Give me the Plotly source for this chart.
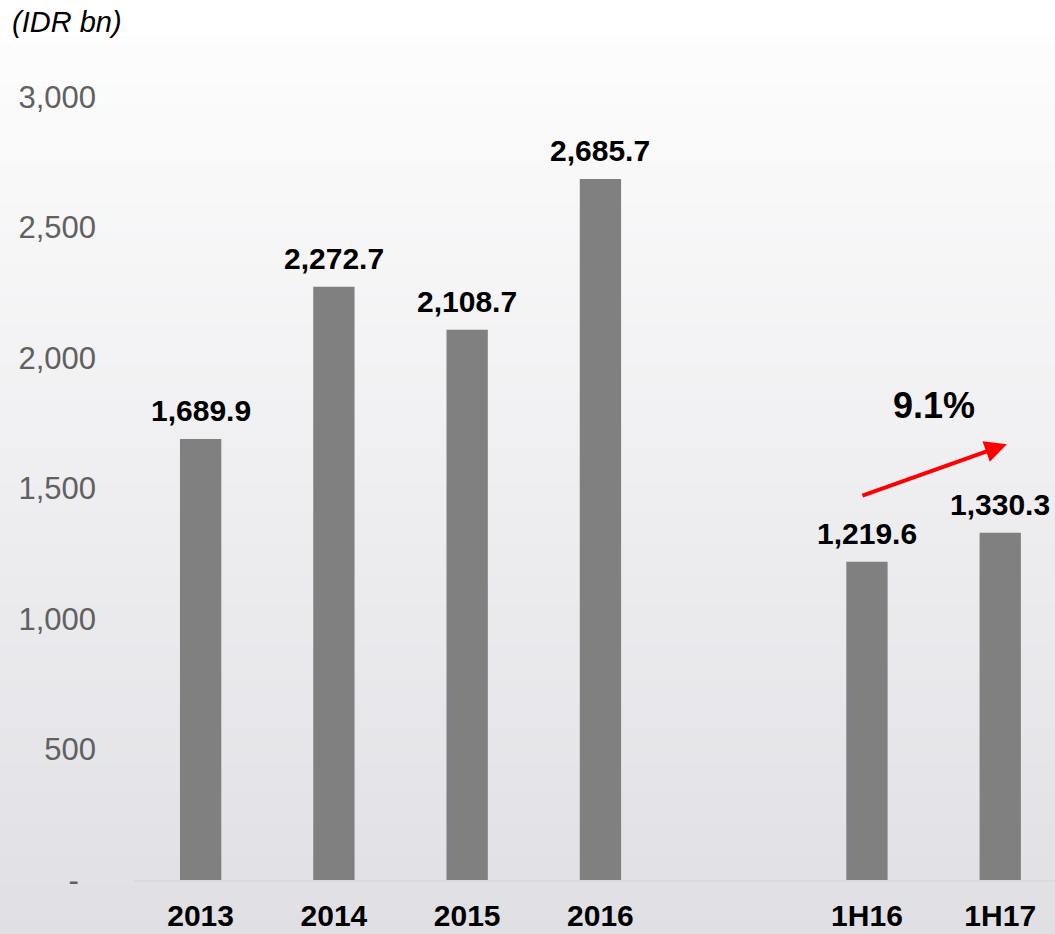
import plotly.graph_objects as go

categories = ["2013", "2014", "2015", "2016", " ", "1H16", "1H17"]
values = [1689.9, 2272.7, 2108.7, 2685.7, None, 1219.6, 1330.3]
labels = ["1,689.9", "2,272.7", "2,108.7", "2,685.7", "", "1,219.6", "1,330.3"]
y_tickvals = [0, 500, 1000, 1500, 2000, 2500, 3000]
y_ticktext = ["-\u00a0\u00a0", "500", "1,000", "1,500", "2,000", "2,500", "3,000"]
growth_label = "9.1%"
unit_label = "(IDR bn)"

W, H = 1055, 934
ML, MT, MB = 134.4, 97, 54
plot_h = H - MT - MB
FONT = "Liberation Sans, Arial, sans-serif"

fig = go.Figure()
fig.add_trace(go.Bar(
    x=categories, y=values,
    marker=dict(color="#808080", line=dict(width=0)),
    cliponaxis=False, width=0.31, hoverinfo="skip",
))

for i, (v, lab) in enumerate(zip(values, labels)):
    if v is None:
        continue
    fig.add_annotation(
        x=i, y=v, xref="x", yref="y", text="<b>" + lab + "</b>", showarrow=False,
        yanchor="bottom", yshift=10,
        font=dict(family=FONT, size=30, color="#000000"),
    )

# background gradient bands (white -> light grey)
shapes = []
top_px, bot_px = 34, H
n = 90
c0 = (253, 253, 253)
c1 = (224, 223, 228)
for i in range(n):
    y0p = top_px + (bot_px - top_px) * i / n
    y1p = top_px + (bot_px - top_px) * (i + 1) / n + 0.6
    t = (i + 0.5) / n
    col = tuple(round(c0[k] + (c1[k] - c0[k]) * t) for k in range(3))
    shapes.append(dict(
        type="rect", xref="paper", yref="paper", layer="below",
        x0=-ML / (W - ML) - 0.01, x1=1.01,
        y0=(H - MB - y1p) / plot_h, y1=(H - MB - y0p) / plot_h,
        fillcolor="rgb(%d,%d,%d)" % col, line=dict(width=0),
    ))

fig.update_layout(
    width=W, height=H,
    margin=dict(l=ML, r=0, t=MT, b=MB, pad=0),
    paper_bgcolor="#FFFFFF", plot_bgcolor="rgba(0,0,0,0)",
    showlegend=False,
    shapes=shapes,
    xaxis=dict(
        type="category", categoryorder="array", categoryarray=categories,
        range=[-0.5, 6.411], showgrid=False, zeroline=False,
        showline=True, linecolor="#D9D9D9", linewidth=1.5,
        ticks="", tickfont=dict(family=FONT, size=30, color="#000000", weight="bold"),
        ticklabelstandoff=8,
    ),
    yaxis=dict(
        range=[0, 3000], tickvals=y_tickvals, ticktext=y_ticktext,
        showgrid=False, zeroline=False, showline=False, ticks="",
        tickfont=dict(family=FONT, size=31, color="#606060"),
        ticklabelstandoff=37,
    ),
    font=dict(family=FONT),
)

fig.add_annotation(
    xref="paper", yref="paper", x=-ML / (W - ML) + 10 / (W - ML), y=(H - MB - 22) / plot_h,
    text="<i>" + unit_label + "</i>", showarrow=False, xanchor="left", yanchor="middle",
    font=dict(family=FONT, size=29, color="#000000"),
)
fig.add_annotation(
    x=5.5, y=(880 - 405) / plot_h * 3000, xref="x", yref="y",
    text="<b>" + growth_label + "</b>", showarrow=False,
    font=dict(family=FONT, size=36, color="#000000"),
)
fig.add_annotation(
    x=6.05, y=1670, ax=4.955, ay=1471, xref="x", yref="y", axref="x", ayref="y",
    text="", showarrow=True, arrowhead=2, arrowsize=1.1, arrowwidth=4, arrowcolor="#FF0000",
)

fig.write_html("out.html")
